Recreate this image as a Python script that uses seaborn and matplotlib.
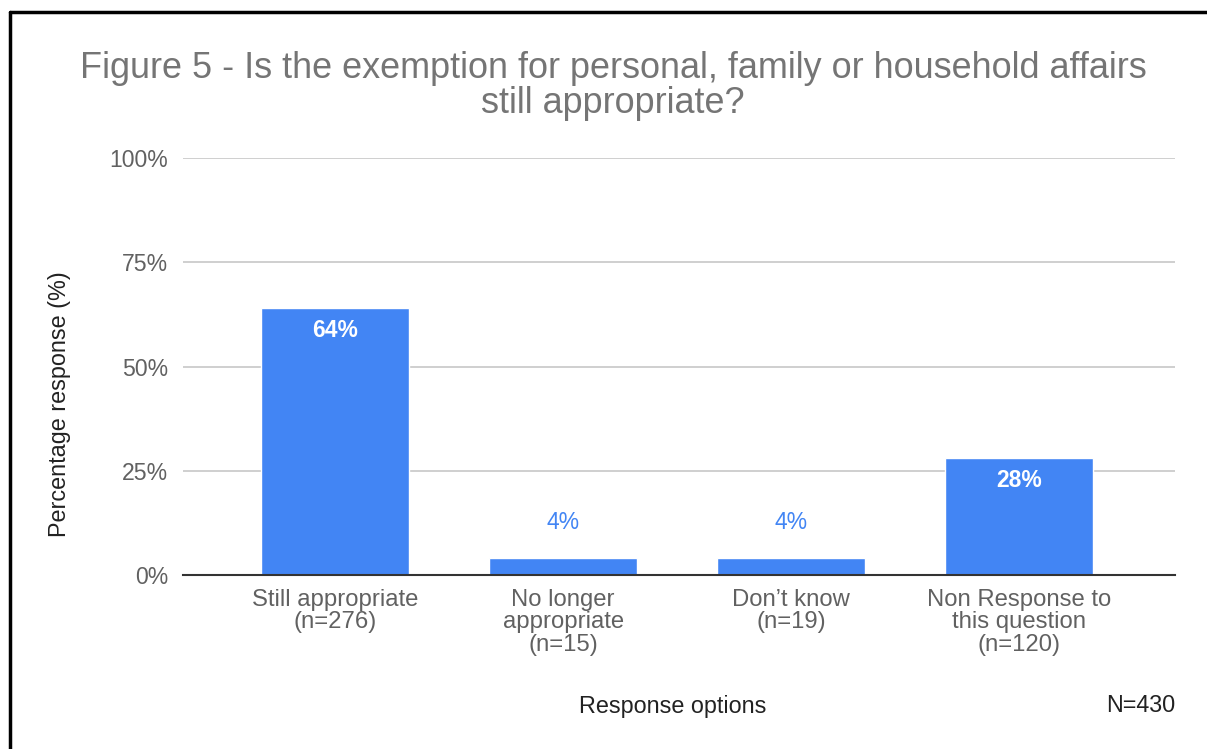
import matplotlib
matplotlib.use("Agg")
import matplotlib.pyplot as plt
from matplotlib.lines import Line2D
import seaborn as sns
import pandas as pd

categories = ["Still appropriate\n(n=276)",
              "No longer\nappropriate\n(n=15)",
              "Don\u2019t know\n(n=19)",
              "Non Response to\nthis question\n(n=120)"]
values = [64, 4, 4, 28]
y_ticks = [0, 25, 50, 75, 100]
y_tick_labels = ["0%", "25%", "50%", "75%", "100%"]

title = "Figure 5 - Is the exemption for personal, family or household affairs\nstill appropriate?"
x_label = "Response options"
y_label = "Percentage response (%)"
note = "N=430"

sns.set_theme(style="white")
plt.rcParams['font.family'] = ['Liberation Sans', 'DejaVu Sans']

W, H = 1207, 749
fig = plt.figure(figsize=(W / 100, H / 100), dpi=100)
fig.patch.set_facecolor("white")

ax = fig.add_axes([183 / W, 1 - 575 / H, 992 / W, 417 / H])
df = pd.DataFrame({"cat": categories, "val": values})
sns.barplot(data=df, x="cat", y="val", color="#4285F4", saturation=1,
            width=0.65, ax=ax, zorder=3)

ax.set_ylim(0, 100)
ax.set_xlim(-0.667, 3.684)
ax.set_yticks(y_ticks)
ax.set_yticklabels(y_tick_labels)
ax.grid(axis="y", color="#cccccc", linewidth=1.3, zorder=0)
ax.grid(axis="x", visible=False)
for s in ["top", "right", "left"]:
    ax.spines[s].set_visible(False)
ax.spines["bottom"].set_color("#333333")
ax.spines["bottom"].set_linewidth(1.5)
ax.spines["bottom"].set_zorder(4)
ax.tick_params(axis="y", length=0, pad=10.8, labelsize=16.6, labelcolor="#616161")
ax.tick_params(axis="x", length=0, pad=10, labelsize=17.2, labelcolor="#616161")
for lbl in ax.get_xticklabels():
    lbl.set_linespacing(1.03)
ax.set_xlabel("")
ax.set_ylabel("")

for i, v in enumerate(values):
    if v >= 10:
        ax.annotate(f"{v:.0f}%", (i, v), xytext=(0, -15.8), textcoords="offset points",
                    ha="center", va="center", color="white", fontsize=16.5,
                    fontweight="bold", zorder=5)
    else:
        ax.annotate(f"{v:.0f}%", (i, v), xytext=(0, 26), textcoords="offset points",
                    ha="center", va="center", color="#4285F4", fontsize=16.5,
                    zorder=5)

fig.text(613 / W, 1 - 86 / H, title, ha="center", va="center", fontsize=25.9,
         color="#757575", linespacing=1.0)
fig.text(673 / W, 1 - 706 / H, x_label, ha="center", va="center", fontsize=16.8,
         color="#222222")
fig.text(1175 / W, 1 - 706 / H, note, ha="right", va="center", fontsize=16.8,
         color="#222222")
fig.text(60 / W, 1 - 404 / H, y_label, ha="center", va="center", rotation=90,
         fontsize=16.8, color="#222222")

# outer frame (left and top edges visible)
fig.add_artist(Line2D([10 / W, 10 / W], [0, 1 - 12 / H], color="black",
                      linewidth=2.5, transform=fig.transFigure))
fig.add_artist(Line2D([10 / W, 1], [1 - 12 / H, 1 - 12 / H], color="black",
                      linewidth=2.5, transform=fig.transFigure))

fig.savefig("out.png", dpi=100, facecolor="white")
